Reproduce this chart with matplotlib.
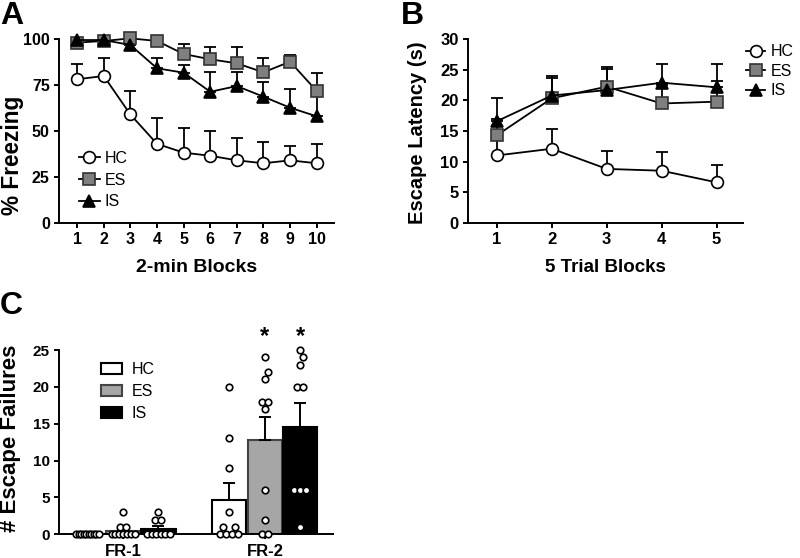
import matplotlib
matplotlib.use('Agg')
import matplotlib.pyplot as plt
import numpy as np
from matplotlib.patches import Patch

plt.rcParams['font.family'] = ['Liberation Sans', 'DejaVu Sans']

# ---------------- data ----------------
groups = ['HC', 'ES', 'IS']

# Panel A: % freezing over 2-min blocks
blocks_a = [1, 2, 3, 4, 5, 6, 7, 8, 9, 10]
hc_a = [78.2, 80.0, 59.0, 43.0, 38.2, 36.5, 34.0, 32.4, 34.0, 32.4]
hc_a_sem = [8.3, 9.6, 12.6, 14.0, 13.6, 13.3, 12.0, 11.6, 8.0, 10.6]
es_a = [98.2, 99.1, 100.5, 99.1, 92.0, 89.1, 86.9, 82.0, 87.8, 71.8]
es_a_sem = [1.5, 1.0, 0.6, 1.0, 5.4, 6.9, 8.7, 7.6, 3.6, 9.6]
is_a = [99.6, 99.6, 96.9, 84.2, 81.8, 71.4, 74.5, 68.7, 62.7, 58.0]
is_a_sem = [0.9, 0.9, 1.6, 5.4, 4.2, 10.9, 7.5, 8.2, 10.0, 13.0]

# Panel B: escape latency over 5-trial blocks
blocks_b = [1, 2, 3, 4, 5]
hc_b = [11.0, 12.1, 8.8, 8.5, 6.6]
hc_b_sem = [3.0, 3.2, 2.9, 3.1, 2.8]
es_b = [14.3, 20.35, 22.25, 19.5, 19.8]
es_b_sem = [2.7, 3.25, 3.25, 3.0, 3.4]
is_b = [16.6, 20.8, 21.7, 22.9, 22.15]
is_b_sem = [3.8, 3.25, 3.4, 3.1, 3.85]

# Panel C: individual escape failures
conditions = ['FR-1', 'FR-2']
hc_fr1 = [0, 0, 0, 0, 0, 0, 0, 0, 0, 0]
es_fr1 = [3, 1, 1, 0, 0, 0, 0, 0, 0, 0]
is_fr1 = [3, 2, 2, 0, 0, 0, 0, 0, 0]
hc_fr2 = [20, 13, 9, 3, 1, 1, 0, 0, 0, 0]
es_fr2 = [24, 22, 21, 18, 18, 17, 6, 2, 0, 0]
is_fr2 = [25, 24, 23, 20, 20, 6, 6, 6, 1]
signif_fr2 = ['', '*', '*']

# ---------------- styling ----------------
W, H = 800, 558
fig = plt.figure(figsize=(8, 5.58), dpi=100)

def ax_px(left, right, top, bottom):
    return fig.add_axes([left / W, 1 - bottom / H, (right - left) / W, (bottom - top) / H])

LW = 1.4
GRAY = '#7f7f7f'

def style(ax, tick_fs):
    for s in ['top', 'right']:
        ax.spines[s].set_visible(False)
    for s in ['left', 'bottom']:
        ax.spines[s].set_linewidth(LW)
    ax.tick_params(width=LW, length=3.8, direction='out', labelsize=tick_fs, pad=3)
    for t in ax.get_xticklabels() + ax.get_yticklabels():
        t.set_fontweight('bold')

series_style = {
    'HC': dict(marker='o', mfc='white', mec='black', ms=8.5),
    'ES': dict(marker='s', mfc=GRAY, mec='#333333', ms=8.3),
    'IS': dict(marker='^', mfc='black', mec='black', ms=8.3),
}

def line_panel(ax, x, data):
    for name, y, e in data:
        ax.errorbar(x, y, yerr=[np.zeros(len(e)), e], fmt='none', ecolor='black',
                    elinewidth=1.3, capsize=4.5, capthick=1.3, zorder=2, clip_on=False)
    for i, (name, y, e) in enumerate(data):
        ax.plot(x, y, color='black', lw=1.3, mew=1.2, zorder=3 + i, clip_on=False,
                label=name, **series_style[name])

LEG_FS = 11.5

# ---- Panel A ----
axA = ax_px(59.3, 334, 39.3, 222.7)
line_panel(axA, blocks_a, [('HC', hc_a, hc_a_sem), ('ES', es_a, es_a_sem), ('IS', is_a, is_a_sem)])
axA.set_xlim(0.33, 10.65)
axA.set_ylim(0, 100)
axA.set_xticks(blocks_a)
axA.set_yticks([0, 25, 50, 75, 100])
style(axA, 11.5)
axA.set_xlabel('2-min Blocks', fontsize=14, fontweight='bold')
axA.set_ylabel('% Freezing', fontsize=16.3, fontweight='bold')
axA.xaxis.set_label_coords(0.5, -0.2)
axA.yaxis.set_label_coords(-0.128, 0.369)
axA.legend(loc='upper left', bbox_to_anchor=(79 / W, 1 - 151 / H), bbox_transform=fig.transFigure,
           frameon=False, fontsize=LEG_FS, handlelength=1.3, handletextpad=0.3,
           labelspacing=0.42, borderpad=0, borderaxespad=0)

# ---- Panel B ----
axB = ax_px(468.3, 743, 39.3, 222.7)
line_panel(axB, blocks_b, [('HC', hc_b, hc_b_sem), ('ES', es_b, es_b_sem), ('IS', is_b, is_b_sem)])
axB.set_xlim(0.48, 5.48)
axB.set_ylim(0, 30)
axB.set_xticks(blocks_b)
axB.set_yticks([0, 5, 10, 15, 20, 25, 30])
style(axB, 12)
axB.set_xlabel('5 Trial Blocks', fontsize=13.5, fontweight='bold')
axB.set_ylabel('Escape Latency (s)', fontsize=14.5, fontweight='bold')
axB.xaxis.set_label_coords(0.5, -0.2)
axB.yaxis.set_label_coords(-0.150, 0.49)
axB.legend(loc='upper left', bbox_to_anchor=(746 / W, 1 - 44.5 / H), bbox_transform=fig.transFigure,
           frameon=False, fontsize=LEG_FS, handlelength=1.2, handletextpad=0.35,
           labelspacing=0.28, borderpad=0, borderaxespad=0)

# ---- Panel C ----
axC = ax_px(59.3, 333, 350, 534.3)
axC.set_xlim(-0.449, 1.48)
axC.set_ylim(0, 25)
bar_w = 0.24
offsets = [-0.25, 0.0, 0.25]
bar_face = ['white', '#a6a6a6', 'black']
bar_edge = ['black', '#444444', 'black']
pts = {'HC': [hc_fr1, hc_fr2], 'ES': [es_fr1, es_fr2], 'IS': [is_fr1, is_fr2]}

fig.canvas.draw()
tr = axC.transData
p0 = tr.transform((0, 0))
p1 = tr.transform((1, 1))
sx, sy = p1[0] - p0[0], p1[1] - p0[1]

def swarm(vals, d_in=6.0, d_col=7.8, maxw=23.0):
    vals = np.asarray(vals, float)
    xs = np.zeros(len(vals))
    placed = []
    for u in sorted(set(vals)):
        idx = np.where(vals == u)[0]
        n = len(idx)
        base = d_in if n == 1 else min(d_in, maxw / (n - 1))
        yp = u * sy
        chosen = None
        mults = [1.0] if n == 1 else [1.0, 1.5, 2.0, 2.5, 3.0]
        for k in [0, 0.5, -0.5, 1.0, -1.0, 1.5, -1.5, 2.0, -2.0]:
            for mlt in mults:
                offs = (np.arange(n) - (n - 1) / 2) * base * mlt + k * d_in
                if all(np.hypot(o - px, yp - py) >= d_col for o in offs for (px, py) in placed):
                    chosen = offs
                    break
            if chosen is not None:
                break
        if chosen is None:
            chosen = (np.arange(n) - (n - 1) / 2) * base
        for j, o in zip(idx, chosen):
            xs[j] = o / sx
            placed.append((o, yp))
    return xs

for gi, g in enumerate(groups):
    for ci in range(len(conditions)):
        v = np.asarray(pts[g][ci], float)
        m = v.mean()
        sem = v.std(ddof=1) / np.sqrt(len(v))
        xc = ci + offsets[gi]
        axC.bar(xc, m, width=bar_w, color=bar_face[gi], edgecolor=bar_edge[gi], linewidth=1.5, zorder=2)
        axC.errorbar(xc, m, yerr=[[0], [sem]], fmt='none', ecolor='black', elinewidth=1.4,
                     capsize=4.5, capthick=1.4, zorder=3)
        axC.plot(xc + swarm(v), v, 'o', ms=4.7, mfc='white', mec='black', mew=1.2,
                 zorder=4, clip_on=False, ls='none')
    if signif_fr2[gi]:
        axC.text(1 + offsets[gi], 26.85, signif_fr2[gi], ha='center', va='center',
                 fontsize=17, fontweight='bold')

axC.set_xticks([0, 1])
axC.set_xticklabels(conditions)
axC.set_yticks([0, 5, 10, 15, 20, 25])
style(axC, 11)
for t in axC.get_xticklabels():
    t.set_fontsize(12)
axC.set_ylabel('# Escape Failures', fontsize=16, fontweight='bold')
axC.yaxis.set_label_coords(-0.141, 0.52)
handles = [Patch(facecolor=bar_face[i], edgecolor=bar_edge[i], linewidth=1.5) for i in range(3)]
axC.legend(handles, groups, loc='upper left', bbox_to_anchor=(101 / W, 1 - 362 / H),
           bbox_transform=fig.transFigure, frameon=False, fontsize=LEG_FS, handlelength=1.3,
           handleheight=0.7, handletextpad=0.6, labelspacing=0.45, borderpad=0, borderaxespad=0)

# Panel letters
for x, y, s in [(0, 1, 'A'), (401, 1, 'B'), (0, 291, 'C')]:
    fig.text(x / W, 1 - y / H, s, fontsize=23, fontweight='bold', ha='left', va='top')

fig.savefig('out.png', dpi=100)
